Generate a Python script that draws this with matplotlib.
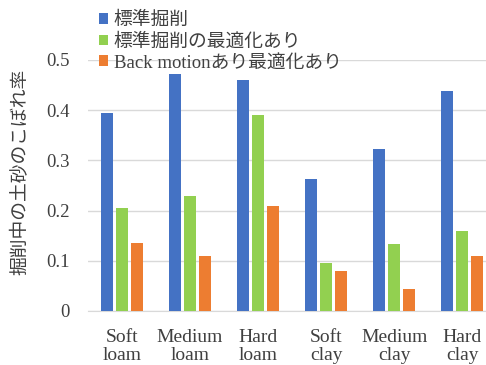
import matplotlib.pyplot as plt
import numpy as np
from matplotlib.patches import Patch

categories = ["Soft\nloam", "Medium\nloam", "Hard\nloam", "Soft\nclay", "Medium\nclay", "Hard\nclay"]
series_names = ["標準掘削", "標準掘削の最適化あり", "Back motionあり最適化あり"]
standard = [0.394, 0.472, 0.459, 0.262, 0.322, 0.438]
optimized = [0.206, 0.229, 0.390, 0.096, 0.133, 0.160]
backmotion = [0.136, 0.110, 0.210, 0.079, 0.044, 0.110]
colors = ["#4472C4", "#92D050", "#ED7D31"]

serif = ["Liberation Serif", "Noto Sans CJK JP"]
cjk = ["Noto Sans CJK JP", "DejaVu Sans"]
txt = "#404040"

fig = plt.figure(figsize=(4.86, 3.65), dpi=100)
ax = fig.add_axes([0.181, 0.148, 0.84, 0.688])

x = np.arange(len(categories))
w = 0.18
step = 0.22
for i, vals in enumerate([standard, optimized, backmotion]):
    ax.bar(x + (i - 1) * step, vals, width=w, color=colors[i], zorder=3)

ax.set_xlim(-0.5, 5.5)
ax.set_ylim(0, 0.5)
ax.set_yticks([0, 0.1, 0.2, 0.3, 0.4, 0.5])
ax.set_yticklabels(["0", "0.1", "0.2", "0.3", "0.4", "0.5"], family=serif, fontsize=13.5, color=txt)
ax.set_xticks(x)
ax.set_xticklabels(categories, family=serif, fontsize=14, color=txt, linespacing=1.05)
ax.tick_params(axis="y", length=0, pad=13)
ax.tick_params(axis="x", length=0, pad=13)
ax.grid(axis="y", color="#D9D9D9", linewidth=1, zorder=0)
for s in ["top", "right", "left"]:
    ax.spines[s].set_visible(False)
ax.spines["bottom"].set_color("#D9D9D9")
ax.spines["bottom"].set_zorder(1)

# y label sits a bit above the axis centre in the original
fig.text(0.042, 0.529, "掘削中の土砂のこぼれ率", family=cjk, fontsize=13.5, color=txt,
         rotation=90, ha="center", va="center")

handles = [Patch(facecolor=c, edgecolor="none") for c in colors]
leg = fig.legend(handles, series_names, loc="upper left", bbox_to_anchor=(0.178, 1.0),
                 frameon=False, handlelength=0.5, handleheight=0.5, handletextpad=0.3,
                 labelspacing=0.2, borderpad=0.15, prop={"family": serif, "size": 13.5})
for t in leg.get_texts():
    t.set_color(txt)

fig.savefig("out.png", dpi=100)
